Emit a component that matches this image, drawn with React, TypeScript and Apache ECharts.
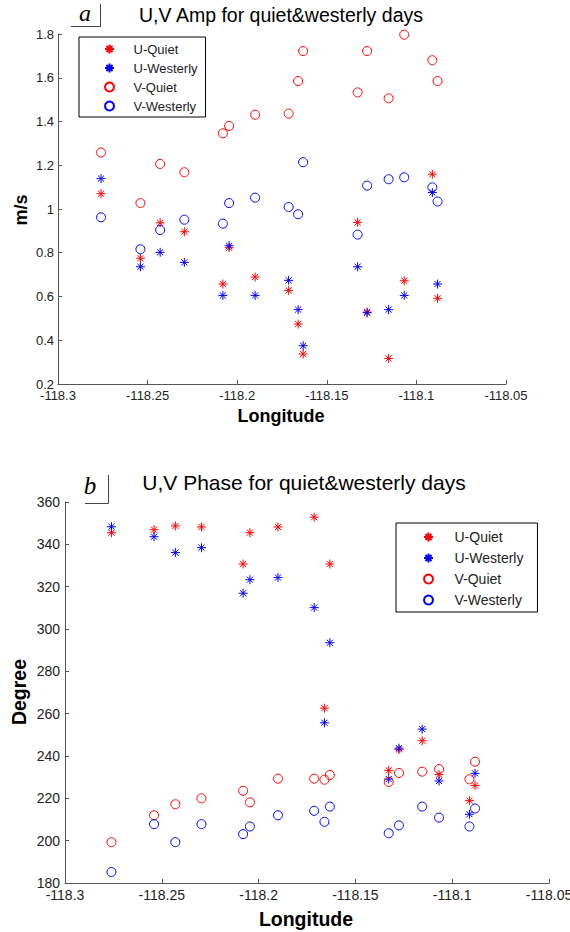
import React, { useEffect, useRef } from "react";
import * as echarts from "echarts";

const lon = [-118.276, -118.254, -118.243, -118.2295, -118.208, -118.2045, -118.19, -118.1713, -118.166, -118.1632, -118.1328, -118.1275, -118.1155, -118.1068, -118.0911, -118.0882];

const ampUQuiet = [1.07, 0.775, 0.937, 0.896, 0.657, 0.823, 0.689, 0.628, 0.474, 0.337, 0.939, 0.529, 0.317, 0.672, 1.159, 0.592];
const ampUWest = [1.139, 0.736, 0.802, 0.756, 0.605, 0.832, 0.605, 0.674, 0.54, 0.375, 0.736, 0.526, 0.54, 0.605, 1.075, 0.657];
const ampVQuiet = [1.258, 1.027, 1.206, 1.168, 1.346, 1.38, 1.431, 1.436, 1.585, 1.722, 1.533, 1.722, 1.506, 1.797, 1.68, 1.585];
const ampVWest = [0.962, 0.816, 0.904, 0.951, 0.933, 1.027, 1.052, 1.009, 0.976, 1.214, 0.883, 1.107, 1.136, 1.145, 1.099, 1.034];

const phUQuiet = [345.5, 346.9, 348.7, 348.2, 330.7, 345.5, 348.2, 352.8, 262.6, 330.7, 233.2, 243.1, 247.2, 231.2, 218.9, 226.1];
const phUWest = [348.3, 343.6, 336.1, 338.4, 316.9, 323.3, 324.3, 310.1, 255.7, 293.5, 229.1, 243.7, 252.7, 228.2, 212.5, 231.8];
const phVQuiet = [199.3, 212.0, 217.2, 220.0, 223.6, 218.1, 229.3, 229.3, 228.8, 231.0, 227.7, 232.0, 232.6, 233.8, 229.0, 237.3];
const phVWest = [185.2, 207.8, 199.3, 207.8, 203.1, 206.7, 212.0, 214.1, 208.9, 216.1, 203.5, 207.2, 216.1, 210.9, 206.7, 215.2];

const names = ["U-Quiet", "U-Westerly", "V-Quiet", "V-Westerly"];
const titles = ["U,V Amp for quiet&westerly days", "U,V Phase for quiet&westerly days"];

const RED = "#ff0000";
const BLUE = "#0000ff";
const STAR = "path://M0,5 L10,5 M5,0 L5,10 M1.6,1.6 L8.4,8.4 M8.4,1.6 L1.6,8.4";
const FONT = "Liberation Sans, Arial, sans-serif";

function pts(arr: number[]) {
  return lon.map((x, i) => [x, arr[i]]);
}

function starSeries(name: string, color: string, idx: number, arr: number[]) {
  return {
    type: "scatter",
    name,
    xAxisIndex: idx,
    yAxisIndex: idx,
    symbol: STAR,
    symbolSize: 9,
    itemStyle: { color: "transparent", borderColor: color, borderWidth: 1, opacity: 1 },
    data: pts(arr),
  };
}
function circSeries(name: string, color: string, idx: number, arr: number[]) {
  return {
    type: "scatter",
    name,
    xAxisIndex: idx,
    yAxisIndex: idx,
    symbol: "circle",
    symbolSize: 9,
    itemStyle: { color: "transparent", borderColor: color, borderWidth: 1, opacity: 1 },
    data: pts(arr),
  };
}

function axisCommon(fs: number) {
  return {
    axisLine: { show: true, lineStyle: { color: "#555", width: 1 } },
    axisTick: { show: true, inside: true, length: 4, lineStyle: { color: "#555" } },
    splitLine: { show: false },
    axisLabel: { color: "#222", fontSize: fs, fontFamily: FONT },
  };
}

function xAxis(idx: number, fs: number) {
  const c = axisCommon(fs);
  return {
    type: "value",
    gridIndex: idx,
    min: -118.3,
    max: -118.05,
    interval: 0.05,
    ...c,
    axisLabel: {
      ...c.axisLabel,
      margin: 5,
      formatter: (v: number) => String(Math.round(v * 100) / 100),
    },
  };
}

function yAxis(idx: number, fs: number, min: number, max: number, interval: number, margin: number) {
  const c = axisCommon(fs);
  return { type: "value", gridIndex: idx, min, max, interval, ...c, axisLabel: { ...c.axisLabel, margin } };
}

function legend(left: number, top: number, padding: number[], gap: number, textPad: number, fs: number) {
  return {
    left,
    top,
    orient: "vertical",
    data: names,
    selectedMode: false,
    padding,
    itemGap: gap,
    itemWidth: 10,
    itemHeight: 9,
    borderColor: "#000",
    borderWidth: 1,
    backgroundColor: "#fff",
    textStyle: { fontSize: fs, fontFamily: FONT, color: "#222", lineHeight: 14, padding: [0, 0, 0, textPad] },
  };
}

function txt(x: number, y: number, text: string, font: string, extra: any = {}) {
  return {
    type: "text",
    x,
    y,
    ...extra,
    style: { text, font, fill: "#000", align: "center", verticalAlign: "middle" },
  };
}

export default function App() {
  const ref = useRef<HTMLDivElement>(null);
  useEffect(() => {
    document.body.style.margin = "0";
    const chart = echarts.init(ref.current!, null, { renderer: "svg" });
    chart.setOption({
      animation: false,
      backgroundColor: "#fff",
      grid: [
        { left: 58, top: 34, width: 448, height: 350, containLabel: false, outerBoundsMode: "none" },
        { left: 65, top: 502, width: 484, height: 381, containLabel: false, outerBoundsMode: "none" },
      ],
      xAxis: [xAxis(0, 13), xAxis(1, 14)],
      yAxis: [yAxis(0, 13, 0.2, 1.8, 0.2, 4), yAxis(1, 14, 180, 360, 20, 5)],
      legend: [
        legend(79, 37, [5, 8, 4, 25], 5, 14, 13),
        legend(396, 523, [7, 14, 5, 27], 7, 16, 14),
      ],
      series: [
        starSeries(names[0], RED, 0, ampUQuiet),
        starSeries(names[1], BLUE, 0, ampUWest),
        circSeries(names[2], RED, 0, ampVQuiet),
        circSeries(names[3], BLUE, 0, ampVWest),
        starSeries(names[0], RED, 1, phUQuiet),
        starSeries(names[1], BLUE, 1, phUWest),
        circSeries(names[2], RED, 1, phVQuiet),
        circSeries(names[3], BLUE, 1, phVWest),
      ],
      graphic: [
        txt(281, 15, titles[0], `19.5px ${FONT}`),
        txt(304, 482, titles[1], `21px ${FONT}`),
        txt(85, 13, "a", "italic 24px Liberation Serif, Times New Roman, serif"),
        txt(90, 485, "b", "italic 25px Liberation Serif, Times New Roman, serif"),
        { type: "polyline", shape: { points: [[71, 26.5], [100.5, 26.5], [100.5, 4]] }, style: { stroke: "#444", lineWidth: 1, fill: null } },
        { type: "polyline", shape: { points: [[85, 503.5], [108.5, 503.5], [108.5, 475]] }, style: { stroke: "#444", lineWidth: 1, fill: null } },
        txt(21, 210, "m/s", `bold 18px ${FONT}`, { rotation: Math.PI / 2 }),
        txt(19, 692, "Degree", `bold 19.5px ${FONT}`, { rotation: Math.PI / 2 }),
        txt(281, 416, "Longitude", `bold 18px ${FONT}`),
        txt(306, 919, "Longitude", `bold 19.5px ${FONT}`),
      ],
    });
    return () => chart.dispose();
  }, []);
  return <div ref={ref} style={{ position: "absolute", left: 0, top: 0, width: 570, height: 932 }} />;
}
